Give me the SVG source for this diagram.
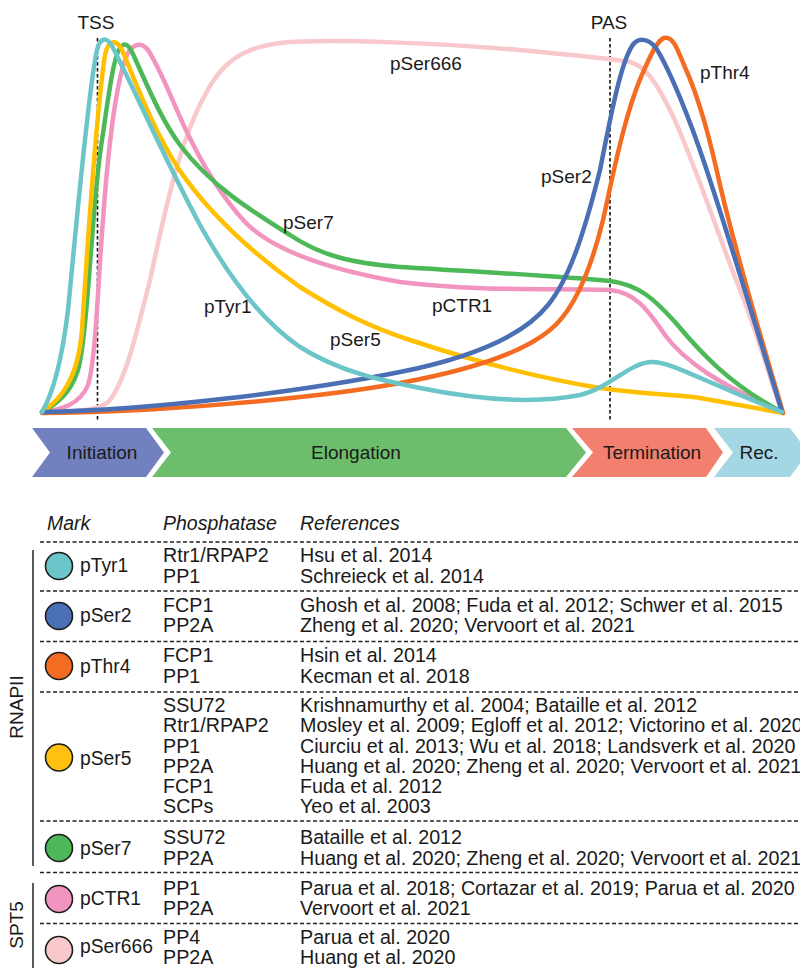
<svg xmlns="http://www.w3.org/2000/svg" width="800" height="968" viewBox="0 0 800 968">
<style>
text{font-family:"Liberation Sans",Arial,sans-serif;fill:#1a1a1a}
.lbl{font-size:19px}
.tb{font-size:19.7px}
.hd{font-size:19.5px;font-style:italic}
.crv{fill:none;stroke-width:4.5;stroke-linecap:round;stroke-linejoin:round}
.vd{stroke:#111;stroke-width:1.6;stroke-dasharray:3.5 2.5;fill:none}
.sep{stroke:#222;stroke-width:1.4;stroke-dasharray:4 2.5;fill:none}
.bar{stroke:#333;stroke-width:1.6;fill:none}
.dot{stroke:#1a1a1a;stroke-width:1.6}
.ph{font-size:19.3px}
</style>
<rect width="800" height="968" fill="#fff"/>

<g id="markers">
<path class="vd" d="M97.5,38 V422"/>
<path class="vd" d="M610,38 V422"/>
<text class="lbl" x="96" y="29" text-anchor="middle">TSS</text>
<text class="lbl" x="609" y="29" text-anchor="middle">PAS</text>
</g>

<g id="curves">
<path id="c-pSer666" class="crv" stroke="#F8C8CC" d="M42,412 C70,412 100,412 110,400 C125,380 135,340 150,280 C165,210 180,140 205,95 C220,65 240,48 280,43 C330,38 450,44 520,50 C570,55 610,58 630,62 C645,66 655,80 670,110 C690,150 720,240 740,290 C760,340 770,380 782,412"/>
<path id="c-pCTR1" class="crv" stroke="#F294C0" d="M42,412 C60,410 80,405 88,385 C96,360 98,280 103,220 C108,150 115,90 125,60 C130,45 140,40 148,50 C160,68 172,100 185,128 C200,160 220,195 245,222 C270,248 320,268 400,282 C480,292 560,288 610,290 C635,292 648,310 665,335 C685,362 720,385 782,412"/>
<path id="c-pSer7" class="crv" stroke="#4CB857" d="M42,412 C55,405 70,395 78,370 C88,335 92,200 102,140 C108,100 113,58 120,48 C124,42 128,44 132,52 C145,80 160,118 180,145 C210,185 250,210 290,235 C320,255 350,263 400,267 C480,272 560,276 610,281 C640,285 655,300 675,322 C700,352 730,385 782,412"/>
<path id="c-pSer5" class="crv" stroke="#FFC000" d="M42,412 C60,400 78,380 82,330 C86,270 95,120 105,55 C108,40 116,38 122,50 C135,80 152,128 178,168 C205,208 245,248 300,287 C340,312 370,327 410,340 C470,360 540,378 600,388 C650,395 683,395 700,398 L783,413"/>
<path id="c-pThr4" class="crv" stroke="#F36C21" d="M42,413 C150,413 320,398 400,383 C460,372 520,355 550,330 C575,310 592,265 603,220 C612,180 625,110 645,68 C652,52 658,40 664,38 C672,36 676,45 684,65 C700,100 710,140 720,185 C740,270 765,350 783,413"/>
<path id="c-pSer2" class="crv" stroke="#4A6FB5" d="M42,412 C150,410 300,392 400,372 C460,360 520,340 548,305 C570,278 585,230 600,170 C610,120 620,65 632,46 C638,37 648,38 656,48 C670,70 690,120 705,165 C730,240 760,340 782,412"/>
<path id="c-pTyr1" class="crv" stroke="#6CC5C9" d="M42,412 C52,395 62,360 68,310 C75,240 88,90 97,50 C100,38 106,36 112,46 C130,80 165,160 200,225 C225,270 260,320 300,347 C340,372 380,380 420,388 C470,398 530,405 580,395 C610,388 630,362 652,362 C672,362 700,380 782,412"/>
</g>

<g id="curve-labels">
<text class="lbl" x="390" y="70">pSer666</text>
<text class="lbl" x="700" y="79">pThr4</text>
<text class="lbl" x="541" y="183">pSer2</text>
<text class="lbl" x="283" y="229">pSer7</text>
<text class="lbl" x="204" y="313">pTyr1</text>
<text class="lbl" x="330" y="346">pSer5</text>
<text class="lbl" x="432" y="312">pCTR1</text>
</g>

<g id="phases">
<g id="ph-initiation">
<polygon points="32,428 146,428 164,452.5 146,477 32,477 50,452.5" fill="#7180BE"/>
<text class="lbl" x="102" y="459" text-anchor="middle">Initiation</text>
</g>
<g id="ph-elongation">
<polygon points="152,428 566,428 586,452.5 566,477 152,477 171,452.5" fill="#6CBE6C"/>
<text class="lbl" x="356" y="459" text-anchor="middle">Elongation</text>
</g>
<g id="ph-termination">
<polygon points="572,428 706,428 723,452.5 706,477 572,477 593,452.5" fill="#F3806F"/>
<text class="lbl" x="652" y="459" text-anchor="middle">Termination</text>
</g>
<g id="ph-rec">
<polygon points="714,428 790,428 808,452.5 790,477 714,477 733,452.5" fill="#A4D6E3"/>
<text class="lbl" x="759" y="459" text-anchor="middle">Rec.</text>
</g>
</g>

<g id="table">
<text class="hd" x="47" y="530">Mark</text>
<text class="hd" x="163" y="530">Phosphatase</text>
<text class="hd" x="300" y="530">References</text>
<path class="sep" d="M40,542 H800 M40,591 H800 M40,641.5 H800 M40,692 H800 M40,821 H800 M40,872.5 H800 M40,923.5 H800"/>
<path class="bar" d="M33,550 V866 M33,883 V968"/>
<text class="lbl" transform="translate(23,707) rotate(-90)" text-anchor="middle">RNAPII</text>
<text class="lbl" transform="translate(23,925) rotate(-90)" text-anchor="middle">SPT5</text>

<g id="row-pTyr1">
<circle class="dot" cx="59" cy="566" r="13.5" fill="#6CC5C9"/>
<text class="ph" x="80" y="572">pTyr1</text>
<text class="tb" x="163" y="562">Rtr1/RPAP2</text>
<text class="tb" x="163" y="583">PP1</text>
<text class="tb" x="300" y="562">Hsu et al. 2014</text>
<text class="tb" x="300" y="583">Schreieck et al. 2014</text>
</g>
<g id="row-pSer2">
<circle class="dot" cx="59" cy="616" r="13.5" fill="#4A6FB5"/>
<text class="ph" x="80" y="622">pSer2</text>
<text class="tb" x="163" y="612">FCP1</text>
<text class="tb" x="163" y="632">PP2A</text>
<text class="tb" x="300" y="612">Ghosh et al. 2008; Fuda et al. 2012; Schwer et al. 2015</text>
<text class="tb" x="300" y="632">Zheng et al. 2020; Vervoort et al. 2021</text>
</g>
<g id="row-pThr4">
<circle class="dot" cx="59" cy="666" r="13.5" fill="#F36C21"/>
<text class="ph" x="80" y="673">pThr4</text>
<text class="tb" x="163" y="662">FCP1</text>
<text class="tb" x="163" y="683">PP1</text>
<text class="tb" x="300" y="662">Hsin et al. 2014</text>
<text class="tb" x="300" y="683">Kecman et al. 2018</text>
</g>
<g id="row-pSer5">
<circle class="dot" cx="59" cy="757.5" r="13.5" fill="#FFC010"/>
<text class="ph" x="80" y="765">pSer5</text>
<text class="tb" x="163" y="712">SSU72</text>
<text class="tb" x="163" y="732">Rtr1/RPAP2</text>
<text class="tb" x="163" y="752.5">PP1</text>
<text class="tb" x="163" y="773">PP2A</text>
<text class="tb" x="163" y="793">FCP1</text>
<text class="tb" x="163" y="813">SCPs</text>
<text class="tb" x="300" y="712">Krishnamurthy et al. 2004; Bataille et al. 2012</text>
<text class="tb" x="300" y="732">Mosley et al. 2009; Egloff et al. 2012; Victorino et al. 2020</text>
<text class="tb" x="300" y="752.5">Ciurciu et al. 2013; Wu et al. 2018; Landsverk et al. 2020</text>
<text class="tb" x="300" y="773">Huang et al. 2020; Zheng et al. 2020; Vervoort et al. 2021</text>
<text class="tb" x="300" y="793">Fuda et al. 2012</text>
<text class="tb" x="300" y="813">Yeo et al. 2003</text>
</g>
<g id="row-pSer7">
<circle class="dot" cx="59" cy="848" r="13.5" fill="#4CB857"/>
<text class="ph" x="80" y="855">pSer7</text>
<text class="tb" x="163" y="844">SSU72</text>
<text class="tb" x="163" y="865">PP2A</text>
<text class="tb" x="300" y="844">Bataille et al. 2012</text>
<text class="tb" x="300" y="865">Huang et al. 2020; Zheng et al. 2020; Vervoort et al. 2021</text>
</g>
<g id="row-pCTR1">
<circle class="dot" cx="59" cy="899" r="13.5" fill="#F294C0"/>
<text class="ph" x="80" y="905">pCTR1</text>
<text class="tb" x="163" y="895">PP1</text>
<text class="tb" x="163" y="915">PP2A</text>
<text class="tb" x="300" y="895">Parua et al. 2018; Cortazar et al. 2019; Parua et al. 2020</text>
<text class="tb" x="300" y="915">Vervoort et al. 2021</text>
</g>
<g id="row-pSer666">
<circle class="dot" cx="59" cy="950" r="13.5" fill="#F8C8CC"/>
<text class="ph" x="80" y="953">pSer666</text>
<text class="tb" x="163" y="944">PP4</text>
<text class="tb" x="163" y="964">PP2A</text>
<text class="tb" x="300" y="944">Parua et al. 2020</text>
<text class="tb" x="300" y="964">Huang et al. 2020</text>
</g>
</g>
</svg>
